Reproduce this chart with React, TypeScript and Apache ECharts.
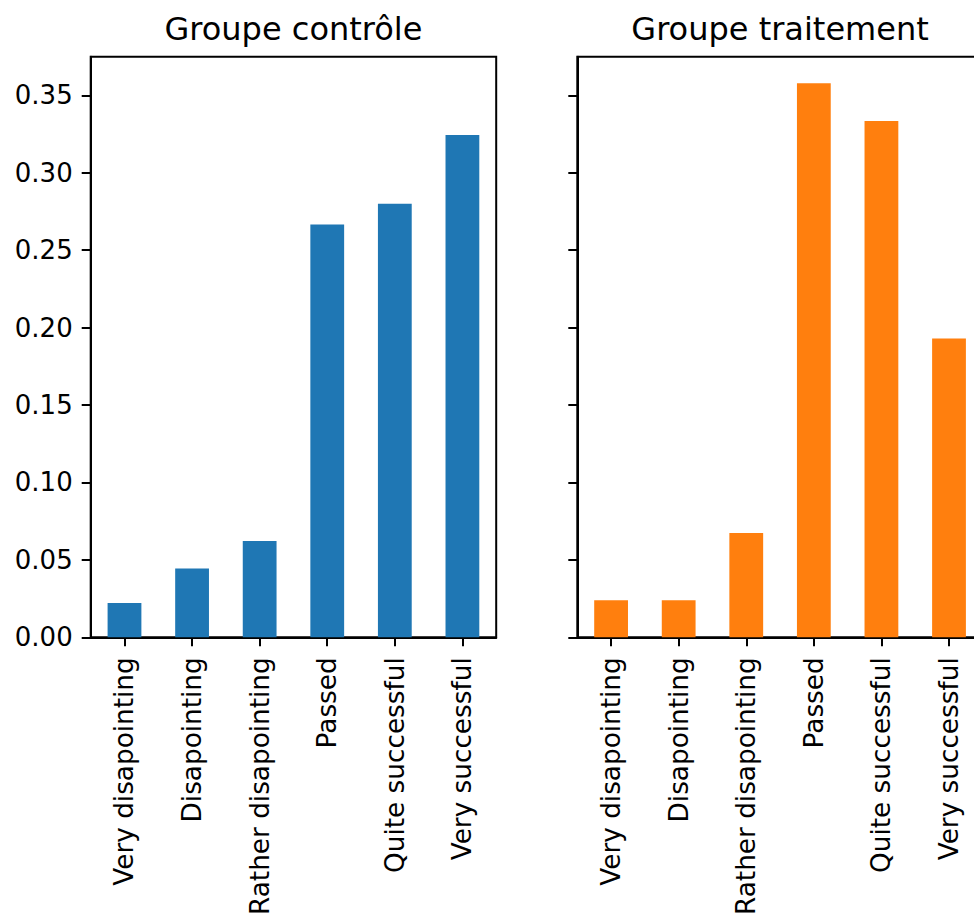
import React, { useEffect, useRef } from "react";
import * as echarts from "echarts";

const categories = [
  "Very disapointing",
  "Disapointing",
  "Rather disapointing",
  "Passed",
  "Quite successful",
  "Very successful",
];
const controlValues = [0.0222, 0.0444, 0.0622, 0.2667, 0.28, 0.3244];
const treatmentValues = [0.0239, 0.0239, 0.0673, 0.3578, 0.3334, 0.193];
const yTicks = [0, 0.05, 0.1, 0.15, 0.2, 0.25, 0.3, 0.35];
const titles = ["Groupe contrôle", "Groupe traitement"];
const colors = ["#1f77b4", "#ff7f0e"];

const FONT = "DejaVu Sans";

export default function App() {
  const ref = useRef<HTMLDivElement>(null);
  useEffect(() => {
    if (!ref.current) return;
    const chart = echarts.init(ref.current, undefined, { renderer: "svg" });
    const gridLefts = [90.7, 577.3];
    const gridW = 405.5;
    const gridTop = 56.7;
    const gridH = 580.6;
    const grids = gridLefts.map((l) => ({
      left: l,
      top: gridTop,
      width: gridW,
      height: gridH,
      show: true,
      borderColor: "#000",
      borderWidth: 2,
      backgroundColor: "transparent",
      containLabel: false,
      outerBoundsMode: "none",
    }));
    const xAxes = [0, 1].map((i) => ({
      type: "category",
      gridIndex: i,
      data: categories,
      boundaryGap: true,
      axisLine: { show: true, lineStyle: { color: "#000", width: 2 } },
      axisTick: { show: true, alignWithLabel: true, length: 9, lineStyle: { color: "#000", width: 2 } },
      axisLabel: {
        show: true,
        interval: 0,
        rotate: 90,
        margin: 20,
        color: "#000",
        fontFamily: FONT,
        fontSize: 26.3,
      },
      splitLine: { show: false },
    }));
    const yAxes = [0, 1].map((i) => ({
      type: "value",
      gridIndex: i,
      min: 0,
      max: 0.375,
      axisLine: { show: true, lineStyle: { color: "#000", width: 2 } },
      axisTick: {
        show: true,
        length: 9,
        customValues: yTicks,
        lineStyle: { color: "#000", width: 2 },
      },
      axisLabel: {
        show: i === 0,
        customValues: yTicks,
        margin: 18,
        color: "#000",
        fontFamily: FONT,
        fontSize: 26,
        formatter: (v: number) => v.toFixed(2),
      },
      splitLine: { show: false },
    }));
    const series = [controlValues, treatmentValues].map((vals, i) => ({
      type: "bar",
      xAxisIndex: i,
      yAxisIndex: i,
      data: vals,
      barWidth: "50%",
      itemStyle: { color: colors[i] },
      silent: true,
    }));
    chart.setOption({
      animation: false,
      backgroundColor: "#fff",
      grid: grids,
      xAxis: xAxes,
      yAxis: yAxes,
      series,
      graphic: titles.map((t, i) => ({
        type: "text",
        x: gridLefts[i] + gridW / 2,
        y: 29,
        style: {
          text: t,
          fill: "#000",
          font: `32px "${FONT}"`,
          textAlign: "center",
          textVerticalAlign: "middle",
        },
      })),
    });
    return () => chart.dispose();
  }, []);
  return (
    <div
      style={{
        position: "absolute",
        left: 0,
        top: 0,
        width: 974,
        height: 916,
        overflow: "hidden",
      }}
    >
      <div ref={ref} style={{ width: 1000, height: 916 }} />
    </div>
  );
}
